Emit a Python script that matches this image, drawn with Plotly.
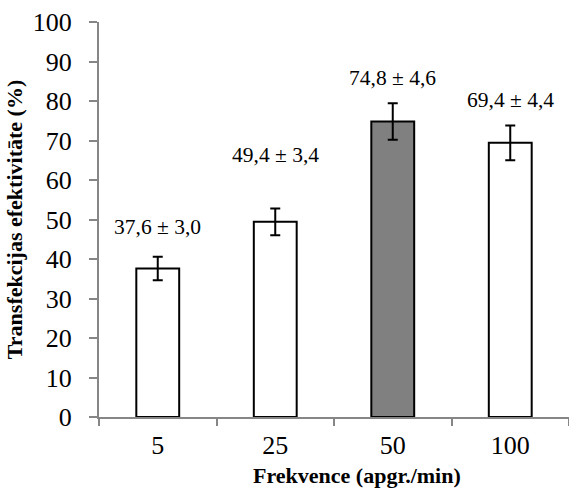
import plotly.graph_objects as go

categories = ["5", "25", "50", "100"]
values = [37.6, 49.4, 74.8, 69.4]
errors = [3.0, 3.4, 4.6, 4.4]
labels = ["37,6 ± 3,0", "49,4 ± 3,4", "74,8 ± 4,6", "69,4 ± 4,4"]
label_y = [48, 66.3, 85.8, 80.3]
fill_colors = ["white", "white", "#808080", "white"]

FONT = "Times New Roman, Liberation Serif, serif"

fig = go.Figure()
fig.add_trace(go.Bar(
    x=categories, y=values,
    width=0.365,
    marker=dict(color=fill_colors, line=dict(color="black", width=2)),
    error_y=dict(type="data", array=errors, visible=True, color="black", thickness=2, width=5),
    showlegend=False,
))
for i, (t, ly) in enumerate(zip(labels, label_y)):
    fig.add_annotation(x=i, y=ly, text=t, showarrow=False, xref="x", yref="y",
                       font=dict(family=FONT, size=21.5, color="black"))

fig.add_annotation(x=0.549, y=0, xref="paper", yref="paper", yshift=-58,
                   xanchor="center", yanchor="middle", borderpad=0,
                   text="<b>Frekvence (apgr./min)</b>", showarrow=False,
                   font=dict(family=FONT, size=22, color="black"))

fig.update_layout(
    width=569, height=490,
    margin=dict(l=99, r=0, t=22, b=73),
    paper_bgcolor="white", plot_bgcolor="white",
    font=dict(family=FONT, color="black"),
    xaxis=dict(
        type="category", range=[-0.5, 3.5], showline=True, linecolor="#868686", linewidth=2,
        ticks="outside", tickson="boundaries", ticklen=7, tickcolor="#868686", tickwidth=2,
        tickfont=dict(family=FONT, size=26, color="black"),
        ticklabelstandoff=4,
        showgrid=False,
    ),
    yaxis=dict(
        range=[0, 100], dtick=10, showline=True, linecolor="#868686", linewidth=2,
        ticks="outside", ticklen=8, tickcolor="#868686", tickwidth=2,
        tickfont=dict(family=FONT, size=26, color="black"),
        ticklabelstandoff=12,
        title=dict(text="<b>Transfekcijas efektivitāte (%)</b>", font=dict(family=FONT, size=22, color="black"), standoff=4),
        showgrid=False, zeroline=False,
    ),
)
fig.write_html("out.html")
